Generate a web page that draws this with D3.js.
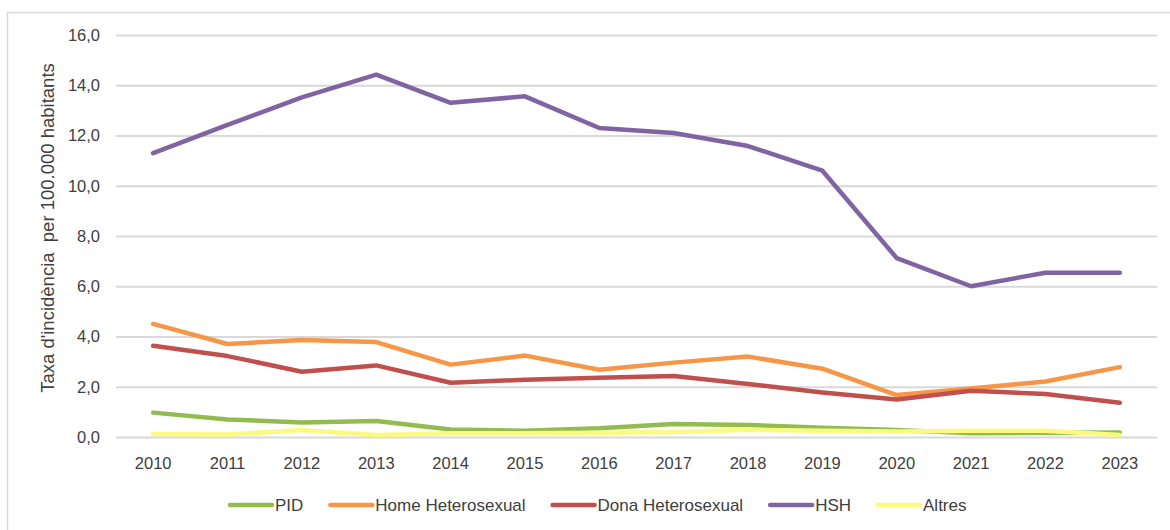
<!DOCTYPE html>
<html><head><meta charset="utf-8">
<script src="https://cdn.jsdelivr.net/npm/d3@7"></script>
<style>body{margin:0;background:#fff}svg{display:block}text{font-family:"Liberation Sans",Arial,sans-serif;fill:#404040}</style>
</head><body>
<svg id="c" width="1170" height="530"></svg>
<script>
const years = ["2010","2011","2012","2013","2014","2015","2016","2017","2018","2019","2020","2021","2022","2023"];
const pid = [0.97,0.70,0.58,0.64,0.30,0.25,0.35,0.52,0.48,0.37,0.28,0.15,0.17,0.18];
const homeHet = [4.50,3.70,3.86,3.78,2.88,3.24,2.68,2.96,3.20,2.72,1.67,1.93,2.21,2.78];
const donaHet = [3.63,3.22,2.60,2.85,2.16,2.28,2.36,2.43,2.11,1.77,1.49,1.84,1.71,1.36];
const hsh = [11.30,12.42,13.52,14.42,13.30,13.56,12.30,12.10,11.58,10.60,7.12,6.00,6.54,6.54];
const altres = [0.12,0.10,0.28,0.08,0.15,0.15,0.17,0.20,0.29,0.25,0.22,0.25,0.25,0.08];
const seriesNames = ["PID","Home Heterosexual","Dona Heterosexual","HSH","Altres"];
const seriesColors = ["#92BD4E","#F79646","#C0504D","#8064A2","#FAFA80"];
const yTicks = [0,2,4,6,8,10,12,14,16];
const yTitle = "Taxa d'incidència  per 100.000 habitants";

const seriesData = [pid, homeHet, donaHet, hsh, altres];
const svg = d3.select("#c");
svg.append("rect").attr("x",7.5).attr("y",12.5).attr("width",1300).attr("height",700)
  .attr("fill","none").attr("stroke","#D9D9D9").attr("stroke-width",1.5);

const x = d3.scaleBand().domain(years).range([116,1157]);
const y = d3.scaleLinear().domain([0,16]).range([437,35]);

const fmt = v => d3.format(".1f")(v).replace(".",",");
const yAxis = svg.append("g").attr("transform","translate(116,0)")
  .call(d3.axisLeft(y).tickValues(yTicks).tickFormat(fmt).tickSize(-(1157-116)).tickPadding(16));
yAxis.select(".domain").remove();
yAxis.selectAll("line").attr("stroke","#D9D9D9").attr("stroke-width",2);
yAxis.selectAll("text").style("font-size","16.5px").attr("fill","#404040");

const xAxis = svg.append("g").attr("transform","translate(0,437)")
  .call(d3.axisBottom(x).tickSize(0).tickPadding(20));
xAxis.select(".domain").remove();
xAxis.selectAll("text").style("font-size","16.5px").attr("fill","#404040");

svg.append("text").attr("transform","translate(54,228) rotate(-90)")
  .attr("text-anchor","middle").style("font-size","18.5px").style("white-space","pre").text(yTitle);

const line = d3.line().x((d,i)=>x(years[i])+x.bandwidth()/2).y(d=>y(d));
seriesData.forEach((s,k)=>{
  svg.append("path").datum(s).attr("d",line).attr("fill","none")
    .attr("stroke",seriesColors[k]).attr("stroke-width",4.5)
    .attr("stroke-linecap","round").attr("stroke-linejoin","round");
});

// legend
let lx = 230;
const ly = 505;
seriesNames.forEach((n,k)=>{
  const g = svg.append("g");
  g.append("line").attr("x1",lx).attr("x2",lx+42).attr("y1",ly).attr("y2",ly)
    .attr("stroke",seriesColors[k]).attr("stroke-width",4.5).attr("stroke-linecap","round");
  const t = g.append("text").attr("x",lx+45).attr("y",ly).attr("dy","0.35em")
    .style("font-size","17px").text(n);
  const w = t.node().getComputedTextLength();
  lx += 45 + w + 27;
});
</script>
</body></html>
